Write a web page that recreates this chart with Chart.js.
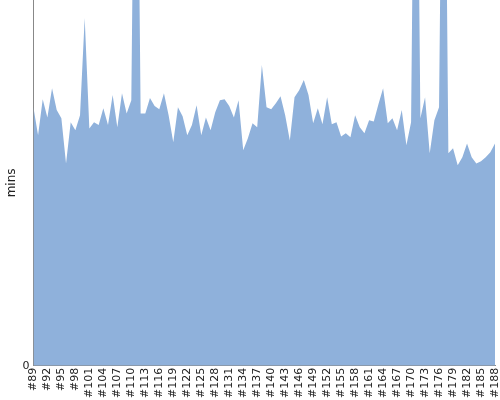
<!DOCTYPE html>
<html>
<head>
<meta charset="utf-8">
<script src="https://cdn.jsdelivr.net/npm/chart.js@4.4.0/dist/chart.umd.min.js"></script>
<style>
	html, body { margin: 0; padding: 0; background: #fff; }
	#wrap { width: 500px; height: 400px; }
</style>
</head>
<body>
<div id="wrap"><canvas id="grafic" width="500" height="400"></canvas></div>
<script>
// Etiquetes de l'eix x (#89 ... #188)
let etiquetes = [];
for (let n = 89; n <= 188; n++) {
	etiquetes.push("#" + n);
}

// Valors llegits de la imatge (mins)
let minuts = [
	70.7, 63.0, 72.9, 67.9, 75.9, 69.9, 67.7, 55.3, 66.6, 64.4,
	68.5, 95.1, 64.9, 66.6, 65.8, 70.4, 65.8, 74.0, 65.2, 74.5,
	69.0, 72.6, 200, 69.0, 69.0, 73.2, 71.0, 70.1, 74.5, 68.5,
	61.1, 70.7, 68.2, 63.0, 65.8, 71.2, 63.0, 67.9, 64.4, 69.3,
	72.6, 72.9, 71.0, 67.9, 72.6, 58.9, 62.2, 66.3, 65.2, 82.2,
	70.7, 70.1, 71.8, 73.7, 68.5, 61.6, 73.4, 75.3, 78.1, 74.0,
	66.3, 70.4, 66.0, 73.4, 66.0, 66.6, 62.7, 63.6, 62.5, 68.5,
	65.2, 63.6, 67.1, 66.8, 71.5, 75.9, 66.3, 67.7, 64.4, 69.9,
	60.3, 66.6, 200, 67.7, 73.4, 58.1, 67.1, 70.7, 200, 58.1,
	59.5, 54.8, 57.0, 60.8, 57.0, 55.3, 55.9, 57.0, 58.4, 60.8
];

let yMax = 100;
let colorArea = 'rgb(143, 177, 219)';

const data = {
	labels: etiquetes,
	datasets: [{
		label: 'mins',
		data: minuts,
		fill: 'origin',
		backgroundColor: colorArea,
		borderColor: colorArea,
		borderWidth: 0,
		pointRadius: 0,
		pointHoverRadius: 0,
		tension: 0
	}]
};

const config = {
	type: 'line',
	data: data,
	options: {
		responsive: false,
		animation: false,
		layout: { autoPadding: false, padding: { left: 3, right: 5, top: 0, bottom: 0 } },
		plugins: {
			legend: { display: false },
			tooltip: { enabled: false }
		},
		scales: {
			x: {
				offset: false,
				grid: { display: false, drawTicks: false },
				border: { color: '#888' },
				afterFit: function (escala) {
					escala.paddingLeft = 0;
					escala.paddingRight = 0;
				},
				ticks: {
					autoSkip: false,
					maxRotation: 90,
					minRotation: 90,
					color: '#222',
					padding: 2,
					font: { family: 'DejaVu Sans', size: 11 },
					callback: function (valor, index) {
						return index % 3 === 0 ? etiquetes[index] : null;
					}
				}
			},
			y: {
				min: 0,
				max: yMax,
				grid: { display: false, drawTicks: true, tickLength: 3 },
				border: { color: '#888' },
				afterFit: function (escala) {
					escala.paddingTop = 0;
				},
				title: {
					display: true,
					text: 'mins',
					color: '#222',
					padding: 2,
					font: { family: 'DejaVu Sans', size: 12 }
				},
				ticks: {
					color: '#222',
					padding: 1,
					font: { family: 'DejaVu Sans', size: 11 },
					callback: function (valor) {
						return valor === 0 ? '0' : null;
					}
				}
			}
		}
	}
};

let myChart = new Chart(document.getElementById('grafic'), config);
</script>
</body>
</html>
